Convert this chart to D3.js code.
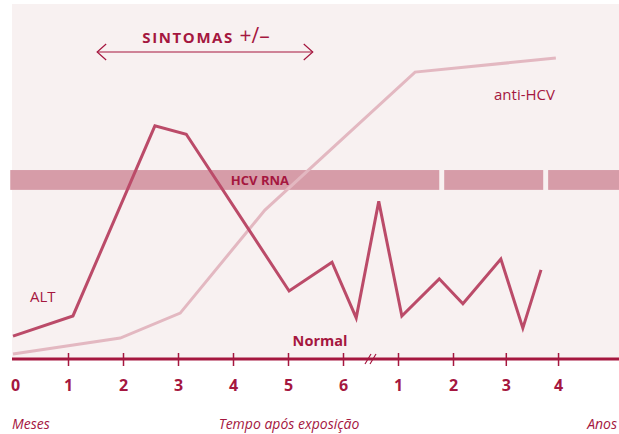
<!DOCTYPE html>
<html>
<head>
<meta charset="utf-8">
<script src="https://cdn.jsdelivr.net/npm/d3@7"></script>
<style>
  body { margin: 0; background: #fff; }
  text { font-family: "Open Sans", "DejaVu Sans", sans-serif; }
</style>
</head>
<body>
<div id="chart"></div>
<script>
// tick positions: months 0..6, then years 1..4 placed after the break
var tickPos = [ 0, 1, 2, 3, 4, 5, 6, 7, 8, 8.96, 9.91 ];
var tickLabels = [ "0", "1", "2", "3", "4", "5", "6", "1", "2", "3", "4" ];

// ALT curve (x in tick units, y in relative level)
var altX = [ 0, 1.09, 2.58, 3.15, 5.02, 5.8, 6.24, 6.65, 7.07, 7.75, 8.18, 8.87, 9.27, 9.6 ];
var altY = [ 5.9, 12.2, 71.6, 69, 20, 29, 11.6, 48, 12.2, 23.8, 16, 30, 8.4, 26.6 ];

// anti-HCV curve
var antiX = [ 0, 1.95, 3.04, 4.58, 7.31, 9.87 ];
var antiY = [ 0.3, 5.3, 13.1, 45.3, 88.4, 92.8 ];

// HCV RNA band segments (x in tick units)
var rnaStart = [ -0.05, 7.84, 9.73 ];
var rnaEnd = [ 7.75, 9.64, 11.1 ];

// symptoms arrow span
var sintomasSpan = [ 1.53, 5.45 ];

var width = 619, height = 434;
var axisY = 359;

var x = d3.scaleLinear().domain( [ 0, 10 ] ).range( [ 13, 563 ] );
var y = d3.scaleLinear().domain( [ 0, 100 ] ).range( [ 355, 35 ] );

var red = "#a5173f";

var svg = d3.select( "#chart" ).append( "svg" )
	.attr( "width", width )
	.attr( "height", height );

// panel background
svg.append( "rect" )
	.attr( "x", 12 ).attr( "y", 4 )
	.attr( "width", width - 12 ).attr( "height", axisY - 4 )
	.style( "fill", "#f8f1f1" );

// HCV RNA band
var bandTop = y( 57.8 ), bandBottom = y( 51.6 );
svg.selectAll( ".rna" )
	.data( rnaStart )
	.enter().append( "rect" )
	.attr( "class", "rna" )
	.attr( "x", function( d ) { return x( d ); } )
	.attr( "y", bandTop )
	.attr( "width", function( d, i ) { return x( rnaEnd[ i ] ) - x( d ); } )
	.attr( "height", bandBottom - bandTop )
	.style( "fill", "#d69ca8" );

var line = d3.line()
	.x( function( d ) { return x( d[ 0 ] ); } )
	.y( function( d ) { return y( d[ 1 ] ); } );

// anti-HCV
svg.append( "path" )
	.datum( d3.zip( antiX, antiY ) )
	.attr( "d", line )
	.style( "fill", "none" )
	.style( "stroke", "#e3b8c1" )
	.style( "stroke-width", 3 );

// ALT
svg.append( "path" )
	.datum( d3.zip( altX, altY ) )
	.attr( "d", line )
	.style( "fill", "none" )
	.style( "stroke", "#bb4b69" )
	.style( "stroke-width", 3 );

svg.append( "text" )
	.attr( "x", x( 4.49 ) ).attr( "y", bandTop + 15 )
	.attr( "text-anchor", "middle" )
	.style( "font-size", "13px" ).style( "font-weight", "bold" )
	.style( "fill", red )
	.text( "HCV RNA" );

// axis
var xAxis = d3.axisBottom( x )
	.tickValues( tickPos )
	.tickFormat( function( d, i ) { return tickLabels[ i ]; } )
	.tickSize( 0 );

var gx = svg.append( "g" )
	.attr( "transform", "translate(0," + axisY + ")" )
	.call( xAxis );
gx.select( ".domain" ).remove();
gx.selectAll( ".tick line" ).remove();
gx.selectAll( ".tick" ).filter( function( d ) { return d > 0; } )
	.append( "line" )
	.attr( "y1", -6 ).attr( "y2", 7 )
	.style( "stroke", red ).style( "stroke-width", 1.5 );
gx.selectAll( ".tick text" )
	.attr( "y", 32 ).attr( "dy", 0 )
	.style( "font-size", "16px" ).style( "font-weight", "bold" )
	.style( "fill", red )
	.style( "font-family", "'Open Sans', sans-serif" );
gx.selectAll( ".tick" ).filter( function( d ) { return d === 0; } ).select( "text" ).attr( "x", 2 );

gx.append( "line" )
	.attr( "x1", 12 ).attr( "x2", width )
	.style( "stroke", red ).style( "stroke-width", 3 );

// break mark
var bx = ( x( 6 ) + x( 7 ) ) / 2;
[ -2.5, 2.5 ].forEach( function( o ) {
	gx.append( "line" )
		.attr( "x1", bx + o - 3 ).attr( "y1", 5 )
		.attr( "x2", bx + o + 3 ).attr( "y2", -5 )
		.style( "stroke", red ).style( "stroke-width", 1.2 );
} );

// labels
svg.append( "text" )
	.attr( "x", 320 ).attr( "y", 346 )
	.attr( "text-anchor", "middle" )
	.style( "font-size", "14.5px" ).style( "font-weight", "bold" )
	.style( "fill", red ).text( "Normal" );

svg.append( "text" )
	.attr( "x", 30 ).attr( "y", 302 )
	.style( "font-size", "15px" )
	.style( "fill", red ).text( "ALT" );

svg.append( "text" )
	.attr( "x", 494 ).attr( "y", 100 )
	.style( "font-size", "15px" )
	.style( "fill", red ).text( "anti-HCV" );

// sintomas arrow
var ay = 52, ax1 = x( sintomasSpan[ 0 ] ), ax2 = x( sintomasSpan[ 1 ] );
svg.append( "line" )
	.attr( "x1", ax1 ).attr( "x2", ax2 ).attr( "y1", ay ).attr( "y2", ay )
	.style( "stroke", red ).style( "stroke-width", 1.2 );
svg.append( "path" )
	.attr( "d", "M" + ( ax1 + 9 ) + "," + ( ay - 8 ) + "L" + ax1 + "," + ay + "L" + ( ax1 + 9 ) + "," + ( ay + 8 ) +
		"M" + ( ax2 - 9 ) + "," + ( ay - 8 ) + "L" + ax2 + "," + ay + "L" + ( ax2 - 9 ) + "," + ( ay + 8 ) )
	.style( "fill", "none" ).style( "stroke", red ).style( "stroke-width", 1.2 );

var st = svg.append( "text" )
	.attr( "x", 206 ).attr( "y", 43 )
	.attr( "text-anchor", "middle" )
	.style( "fill", red );
st.append( "tspan" )
	.style( "font-size", "15px" ).style( "font-weight", "bold" ).style( "letter-spacing", "1.6px" )
	.text( "SINTOMAS " );
st.append( "tspan" )
	.style( "font-size", "21px" )
	.text( "+/\u2013" );

// bottom captions
var cap = [ [ 12, "start", "Meses" ], [ 289, "middle", "Tempo após exposição" ], [ 617, "end", "Anos" ] ];
svg.selectAll( ".cap" )
	.data( cap )
	.enter().append( "text" )
	.attr( "class", "cap" )
	.attr( "x", function( d ) { return d[ 0 ]; } )
	.attr( "y", 429 )
	.attr( "text-anchor", function( d ) { return d[ 1 ]; } )
	.style( "font-size", "14px" ).style( "font-style", "italic" )
	.style( "fill", red )
	.text( function( d ) { return d[ 2 ]; } );
</script>
</body>
</html>
